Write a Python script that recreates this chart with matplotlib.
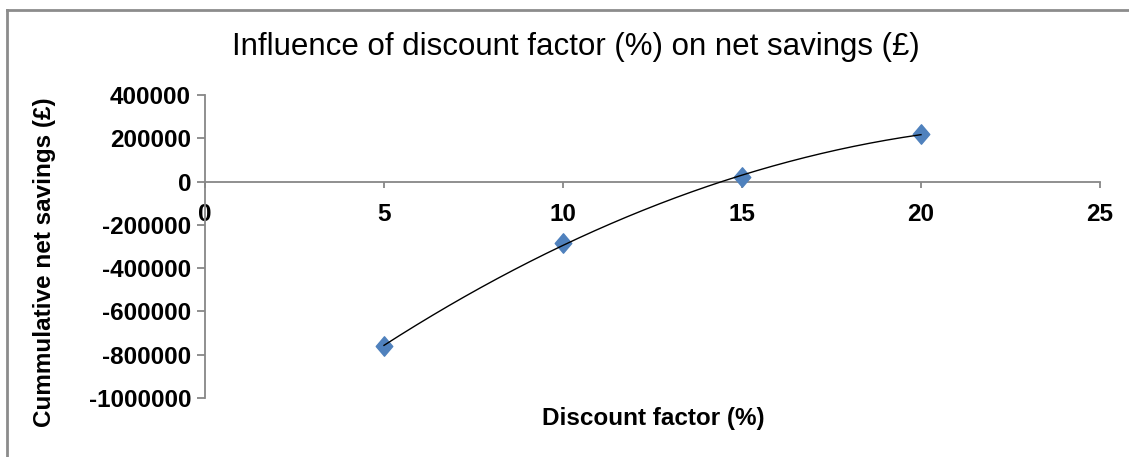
import numpy as np
import matplotlib.pyplot as plt
from matplotlib.lines import Line2D
from matplotlib.path import Path


# данные
discount = [5, 10, 15, 20]
savings = [-760000, -285000, 20000, 220000]

x_ticks = [0, 5, 10, 15, 20, 25]
y_ticks = [-1000000, -800000, -600000, -400000, -200000, 0, 200000, 400000]

title = "Influence of discount factor (%) on net savings (£)"
x_label = "Discount factor (%)"
y_label = "Cummulative net savings (£)"

plt.rcParams['font.family'] = ['Liberation Sans', 'DejaVu Sans']
plt.rcParams['axes.unicode_minus'] = False

W, H = 1129, 457
fig = plt.figure(figsize=(W / 100, H / 100), dpi=100)
ax = fig.add_axes([205 / W, 1 - 398 / H, (1100 - 205) / W, (398 - 95) / H])

axis_gray = '#878787'

# маркеры (ромб чуть уже по ширине)
diamond = Path([(0, 1), (0.85, 0), (0, -1), (-0.85, 0), (0, 1)],
               [Path.MOVETO, Path.LINETO, Path.LINETO, Path.LINETO, Path.CLOSEPOLY])
ax.plot(discount, savings, linestyle='none', marker=diamond, markersize=14,
        color='#4F81BD', zorder=3)

# полиномиальный тренд 2-й степени
coef = np.polyfit(discount, savings, 2)
xs = np.linspace(min(discount), max(discount), 200)
ax.plot(xs, np.polyval(coef, xs), color='black', linewidth=1, zorder=4)

ax.set_xlim(0, 25)
ax.set_ylim(-1000000, 400000)
ax.set_xticks(x_ticks)
ax.set_yticks(y_ticks)
ax.set_yticklabels([str(v) for v in y_ticks])
ax.set_xticklabels([str(v) for v in x_ticks])

for side in ['top', 'right']:
    ax.spines[side].set_visible(False)
ax.spines['bottom'].set_position(('data', 0))
for side in ['left', 'bottom']:
    ax.spines[side].set_color(axis_gray)
    ax.spines[side].set_linewidth(1.3)

ax.tick_params(axis='y', direction='out', length=6, width=1.3, color=axis_gray,
               pad=4, labelsize=17.5)
ax.tick_params(axis='x', direction='out', length=4.5, width=1.3, color=axis_gray,
               pad=11, labelsize=17.5)
for lab in ax.get_xticklabels() + ax.get_yticklabels():
    lab.set_fontweight('bold')

ax.patch.set_visible(False)

# подписи
fig.text(576 / W, 1 - 47 / H, title, ha='center', va='center', fontsize=22.5)
fig.text(653 / W, 1 - 418 / H, x_label, ha='center', va='center',
         fontsize=17.5, fontweight='bold')
fig.text(45 / W, 1 - 262 / H, y_label, ha='center', va='center', rotation=90,
         fontsize=17.5, fontweight='bold')

# рамка области диаграммы (видна только слева и сверху)
fig.add_artist(Line2D([7 / W, 7 / W], [0, 1 - 10 / H], color='#8c8c8c', linewidth=2))
fig.add_artist(Line2D([7 / W, 1], [1 - 10 / H, 1 - 10 / H], color='#8c8c8c', linewidth=2))

fig.savefig('out.png', dpi=100)
